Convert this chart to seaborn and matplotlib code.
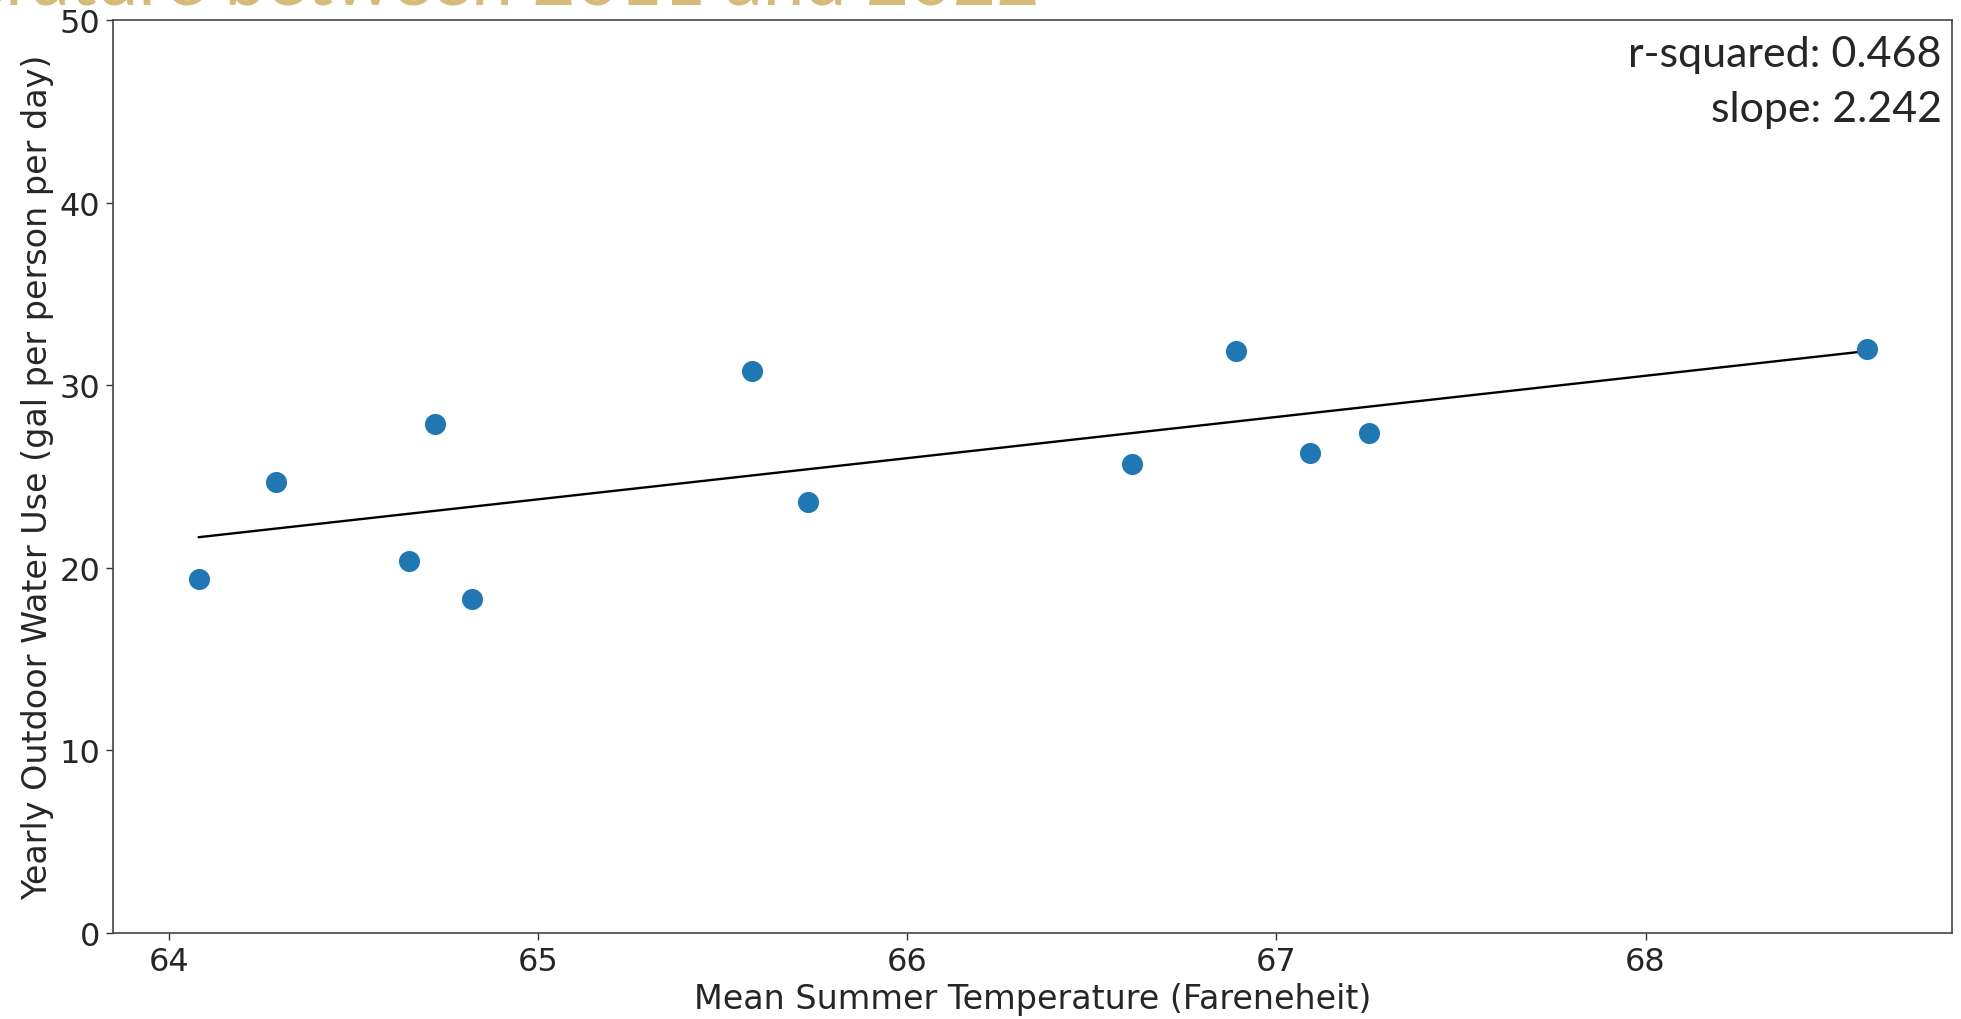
"""Outdoor water use vs mean summer temperature, 2011-2022 (slide screenshot)."""
import matplotlib
matplotlib.use("Agg")
import matplotlib.pyplot as plt
import pandas as pd
import seaborn as sns

# one point per year
years = list(range(2011, 2023))
summer_temp_f = [64.08, 64.29, 64.65, 64.72, 64.82, 65.58,
                 65.73, 66.61, 66.89, 67.09, 67.25, 68.60]
outdoor_gpcd = [19.4, 24.7, 20.4, 27.9, 18.3, 30.8,
                23.6, 25.7, 31.9, 26.3, 27.4, 32.0]

r_squared_txt = "r-squared: 0.468"
slope_txt = "slope: 2.242"
title_txt = "Temperature between 2011 and 2022"

DOT = "#1f77b4"
GOLD = "#D5BA78"

df = pd.DataFrame({"year": years, "temp": summer_temp_f, "use": outdoor_gpcd})

sns.set_theme(style="ticks")
plt.rcParams["font.family"] = ["DejaVu Sans"]

fig = plt.figure(figsize=(19.61, 10.20), dpi=100)
ax = fig.add_axes([0.0574, 0.0843, 0.938, 0.8947])

sns.scatterplot(data=df, x="temp", y="use", ax=ax, color=DOT,
                s=230, linewidth=0, zorder=3)
sns.regplot(data=df, x="temp", y="use", ax=ax, scatter=False, ci=None,
            truncate=True, color="black", line_kws={"lw": 1.7, "zorder": 2})

ax.set_xlim(63.847, 68.83)
ax.set_ylim(0, 50)
ax.set_xticks([64, 65, 66, 67, 68])
ax.set_yticks([0, 10, 20, 30, 40, 50])
ax.tick_params(labelsize=23, length=5, width=1, color="#333333", pad=4)
ax.set_xlabel("Mean Summer Temperature (Fareneheit)", fontsize=24, labelpad=4)
ax.set_ylabel("Yearly Outdoor Water Use (gal per person per day)",
              fontsize=24, labelpad=4)
for sp in ax.spines.values():
    sp.set_visible(True)
    sp.set_color("#444444")
    sp.set_linewidth(1.2)

fig.text(1942 / 1961, 1 - 36 / 1020, r_squared_txt + "\n" + slope_txt,
         ha="right", va="top", fontsize=31, family=["Lato", "DejaVu Sans"],
         linespacing=1.55)

# slide title, mostly cut off by the top edge of the screenshot
fig.text(1040 / 1961, 1 - 5 / 1020, title_txt, ha="right", va="baseline",
         fontsize=54, color=GOLD, family=["Lato", "DejaVu Sans"])

fig.savefig("out.png", dpi=100)
